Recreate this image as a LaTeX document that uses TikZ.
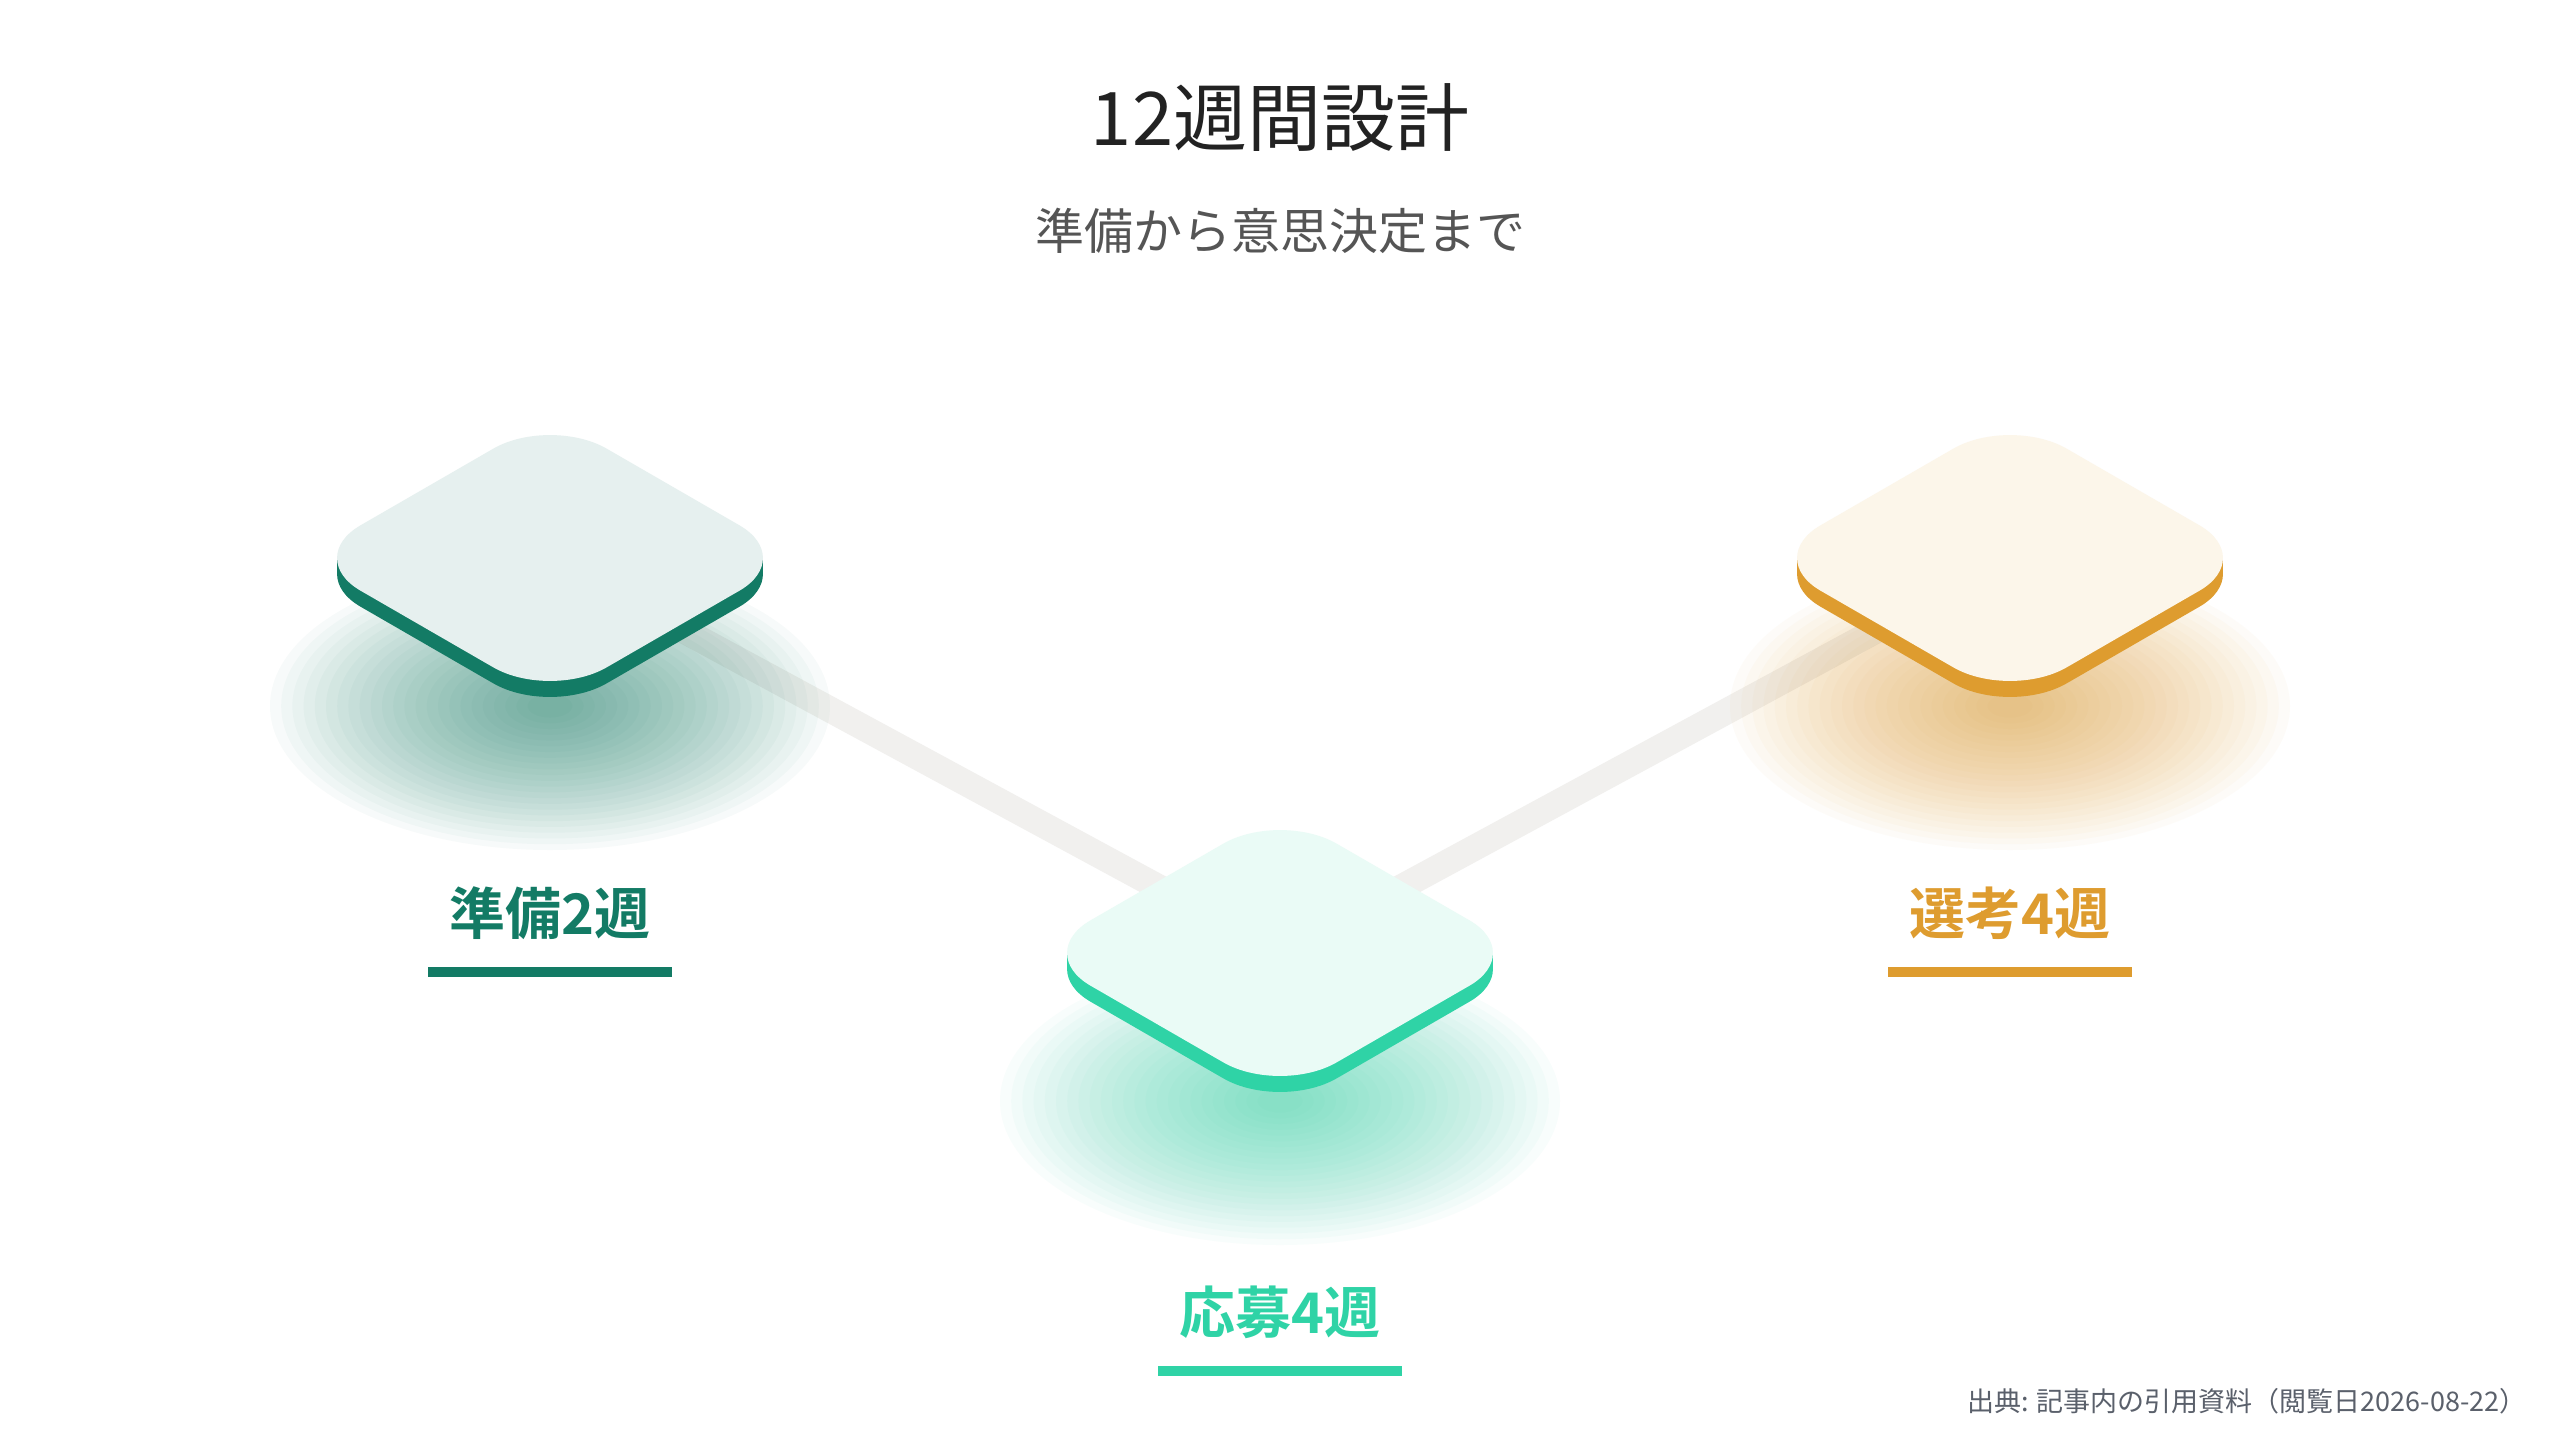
\documentclass[tikz,border=0pt]{standalone}
\usepackage{fontspec}
\usetikzlibrary{calc}
\newfontfamily\jp{Noto Sans CJK JP}[BoldFont=* Bold]
\definecolor{titlec}{HTML}{222222}
\definecolor{subc}{HTML}{555555}
\definecolor{footc}{HTML}{5A606B}
\definecolor{connc}{HTML}{F1F0EE}
\definecolor{gside}{HTML}{137B65}
\definecolor{gface}{HTML}{E6F0EF}
\definecolor{tside}{HTML}{2FD3A6}
\definecolor{tface}{HTML}{EAFBF6}
\definecolor{oside}{HTML}{DE9C2F}
\definecolor{oface}{HTML}{FCF6EA}
\newcommand\tilefill[1]{\fill[#1] (87pt,-47pt) -- (87pt,47pt) arc[start angle=0,end angle=90,radius=40pt] -- (-47pt,87pt) arc[start angle=90,end angle=180,radius=40pt] -- (-87pt,-47pt) arc[start angle=180,end angle=270,radius=40pt] -- (47pt,-87pt) arc[start angle=270,end angle=360,radius=40pt] -- cycle;}
\newcommand\isotile[3]{%
 \begin{scope}[shift={(#1)}]
  \fill[#2] (-106.5pt,0pt) rectangle (106.5pt,-8pt);
  \begin{scope}[yshift=-8pt,yscale=0.57735,rotate=45]\tilefill{#2}\end{scope}
  \begin{scope}[yscale=0.57735,rotate=45]\tilefill{#3}\end{scope}
 \end{scope}}
\newcommand\tileglow[2]{%
 \foreach \k in {0,...,23}{%
  \fill[#2, fill opacity=0.032] ($(#1)+(0,148)$) ellipse [x radius={140pt*(1-\k/25)}, y radius={72pt*(1-\k/25)}];}}
\tikzset{
  conn/.style={line width=13pt, color=connc},
  lab/.style={font=\jp\bfseries\fontsize{28pt}{32pt}\selectfont, inner sep=0pt},
}
\begin{document}
\begin{tikzpicture}[x=0.5pt,y=-0.5pt]
\useasboundingbox (0,0) rectangle (2560,1440);
\fill[white] (0,0) rectangle (2560,1440);
% tile centres
\coordinate (prep) at (550,558);
\coordinate (apply) at (1280,953);
\coordinate (select) at (2010,558);
% connectors
\draw[conn] (prep) -- (apply);
\draw[conn] (apply) -- (select);
% glows
\tileglow{prep}{gside}
\tileglow{apply}{tside}
\tileglow{select}{oside}
% tiles
\isotile{prep}{gside}{gface}
\isotile{apply}{tside}{tface}
\isotile{select}{oside}{oface}
% title
\node[font=\jp\fontsize{37pt}{44pt}\selectfont, text=titlec, inner sep=0pt] (title) at (1280,118) {12週間設計};
\node[font=\jp\fontsize{24.5pt}{30pt}\selectfont, text=subc, inner sep=0pt] (subtitle) at (1280,231) {準備から意思決定まで};
% labels
\node[lab, text=gside] (lprep) at (550,913) {準備2週};
\node[lab, text=tside] (lapply) at (1280,1312) {応募4週};
\node[lab, text=oside] (lselect) at (2010,913) {選考4週};
\fill[gside] ($(lprep)+(-122,54)$) rectangle ($(lprep)+(122,64)$);
\fill[tside] ($(lapply)+(-122,54)$) rectangle ($(lapply)+(122,64)$);
\fill[oside] ($(lselect)+(-122,54)$) rectangle ($(lselect)+(122,64)$);
% footer
\node[font=\jp\fontsize{13.5pt}{16pt}\selectfont, text=footc, inner sep=0pt, anchor=east] (foot) at (2527,1401) {出典: 記事内の引用資料（閲覧日2026-08-22）};
\end{tikzpicture}
\end{document}
